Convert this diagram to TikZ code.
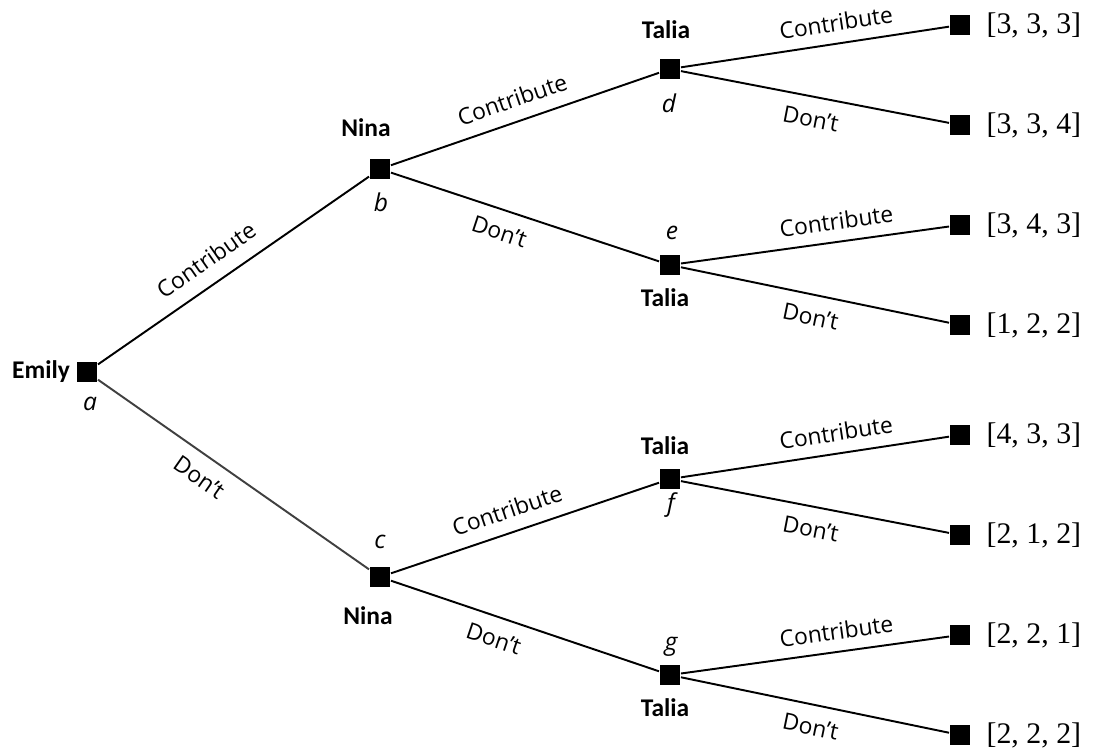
\documentclass[tikz,border=0pt]{standalone}
\usepackage{fontspec}
\setmainfont{Open Sans}
\newfontfamily\namefont{Carlito}
\newfontfamily\payfont{Liberation Serif}
\usetikzlibrary{positioning}

\begin{document}
\begin{tikzpicture}[x=0.02cm, y=-0.02cm, line width=1.1pt,
    choice/.style={fill=black, minimum size=0.4cm, inner sep=0pt},
    player/.style={font=\namefont\bfseries\fontsize{14.5}{16}\selectfont},
    nodename/.style={font=\itshape\fontsize{14}{16}\selectfont},
    move/.style={font=\fontsize{13}{15}\selectfont, sloped, text=black},
    payoff/.style={font=\payfont\fontsize{17}{19}\selectfont, right=5pt of #1}]

    \useasboundingbox (0,0) rectangle (1094,747);

    % Nodos de decision
    \node[choice] (a) at (87,372) {};
    \node[choice] (b) at (380,169) {};
    \node[choice] (c) at (380,577) {};
    \node[choice] (d) at (670,69) {};
    \node[choice] (e) at (670,265) {};
    \node[choice] (f) at (670,479) {};
    \node[choice] (g) at (670,675) {};

    % Nodos terminales
    \node[choice] (t1) at (960,25) {};
    \node[choice] (t2) at (960,125) {};
    \node[choice] (t3) at (960,225) {};
    \node[choice] (t4) at (960,325) {};
    \node[choice] (t5) at (960,435) {};
    \node[choice] (t6) at (960,535) {};
    \node[choice] (t7) at (960,635) {};
    \node[choice] (t8) at (960,735) {};

    % Jugadores
    \node[player] (emily) at (41,372) {Emily};
    \node[player] (ninab) at (366,128) {Nina};
    \node[player] (ninac) at (368,616) {Nina};
    \node[player] (taliad) at (666,30) {Talia};
    \node[player] (taliae) at (665,298) {Talia};
    \node[player] (taliaf) at (665,446) {Talia};
    \node[player] (taliag) at (665,708) {Talia};

    % Nombres de los nodos
    \node[nodename] (la) at (90,404) {a};
    \node[nodename] (lb) at (381,202) {b};
    \node[nodename] (lc) at (380,542) {c};
    \node[nodename] (ld) at (669,103) {d};
    \node[nodename] (le) at (672,233) {e};
    \node[nodename] (lf) at (671,505) {f};
    \node[nodename] (lg) at (671,647) {g};

    % Ramas de Emily
    \draw (a) -- node[move, above=5pt, pos=0.45] {Contribute} (b);
    \draw[black!75] (a) -- node[move, below=4pt, pos=0.42] {Don’t} (c);

    % Ramas de Nina
    \draw (b) -- node[move, above=4pt, pos=0.48] {Contribute} (d);
    \draw (b) -- node[move, below=4pt, pos=0.43] {Don’t} (e);
    \draw (c) -- node[move, above=4pt, pos=0.46] {Contribute} (f);
    \draw (c) -- node[move, below=4pt, pos=0.41] {Don’t} (g);

    % Ramas de Talia
    \draw (d) -- node[move, above=3pt, pos=0.59] {Contribute} (t1);
    \draw (d) -- node[move, below=4pt, pos=0.5] {Don’t} (t2);
    \draw (e) -- node[move, above=3pt, pos=0.59] {Contribute} (t3);
    \draw (e) -- node[move, below=4pt, pos=0.5] {Don’t} (t4);
    \draw (f) -- node[move, above=3pt, pos=0.59] {Contribute} (t5);
    \draw (f) -- node[move, below=4pt, pos=0.5] {Don’t} (t6);
    \draw (g) -- node[move, above=3pt, pos=0.59] {Contribute} (t7);
    \draw (g) -- node[move, below=4pt, pos=0.5] {Don’t} (t8);

    % Pagos
    \node[payoff=t1] (p1) {[3, 3, 3]};
    \node[payoff=t2] (p2) {[3, 3, 4]};
    \node[payoff=t3] (p3) {[3, 4, 3]};
    \node[payoff=t4] (p4) {[1, 2, 2]};
    \node[payoff=t5] (p5) {[4, 3, 3]};
    \node[payoff=t6] (p6) {[2, 1, 2]};
    \node[payoff=t7] (p7) {[2, 2, 1]};
    \node[payoff=t8] (p8) {[2, 2, 2]};

\end{tikzpicture}
\end{document}
